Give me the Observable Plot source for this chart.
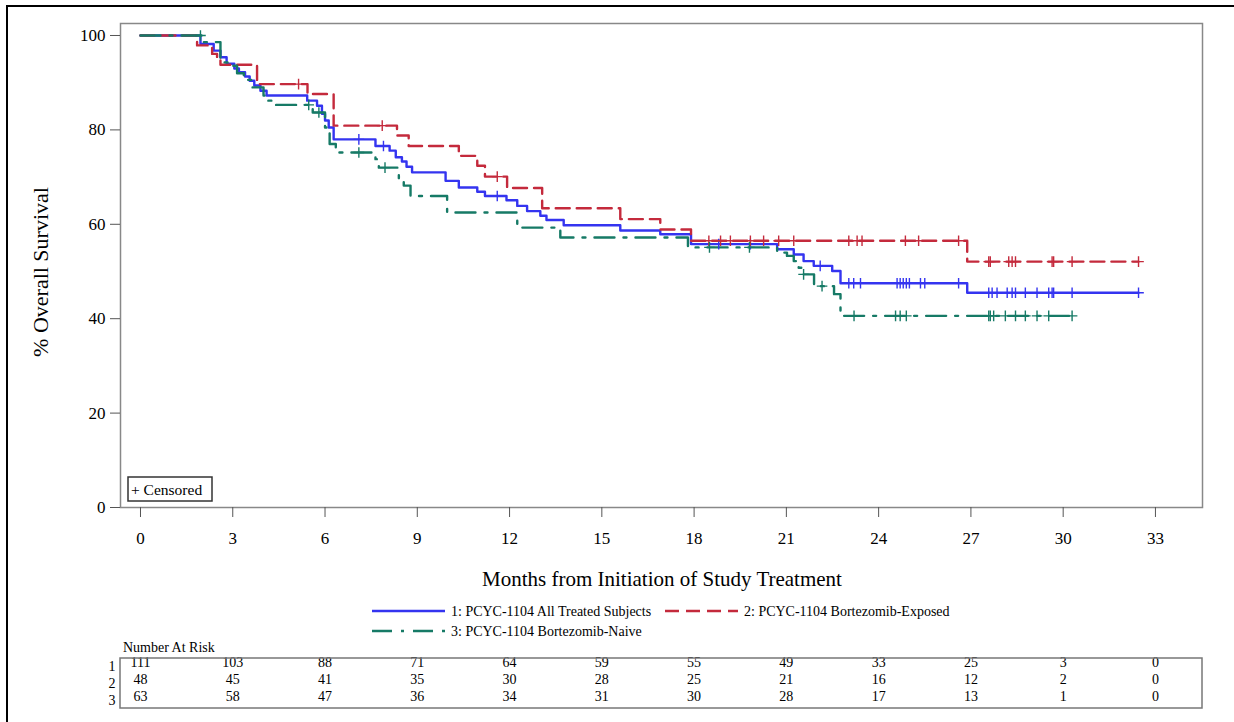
<!DOCTYPE html>
<html><head><meta charset="utf-8">
<script src="https://cdn.jsdelivr.net/npm/d3@7"></script>
<script src="https://cdn.jsdelivr.net/npm/@observablehq/plot@0.6"></script>
<style>body{margin:0;background:#fff} svg{display:block}</style>
</head><body><div id="chart"></div>
<script>
// ---------- data ----------
const seriesNames = ["1: PCYC-1104 All Treated Subjects", "2: PCYC-1104 Bortezomib-Exposed", "3: PCYC-1104 Bortezomib-Naive"];
const seriesColors = ["#3434f0", "#c42a3c", "#167a66"];

// Kaplan-Meier step points (time in months, survival %)
const allTimes = [0,1.95,2.38,2.6,2.8,3.05,3.2,3.4,3.55,3.7,3.9,4.1,5.42,5.74,5.9,6.0,6.12,6.28,7.64,8.1,8.3,8.5,8.65,8.83,9.92,10.35,10.95,11.2,11.9,12.25,12.57,13.0,13.2,13.76,15.6,16.9,17.9,20.7,21.24,21.56,21.89,22.49,22.76,26.88,32.45];
const allSurv  = [100,98.2,96.8,95.4,94.0,93.0,92.2,91.3,90.4,89.4,88.3,87.3,86.2,85.1,83.4,82.0,80.5,78.0,76.6,75.6,74.2,73.3,72.2,71.0,69.2,67.8,66.9,66.0,65.1,63.9,62.8,61.8,60.9,59.8,58.7,57.9,55.8,54.7,53.6,52.2,51.2,50.1,47.5,45.5,45.5];
const allCensT = [7.1,7.9,11.6,18.8,19.83,22.1,23.03,23.19,23.41,24.6,24.7,24.8,24.9,25.0,25.36,25.5,26.6,27.58,27.69,27.85,28.18,28.34,28.45,28.77,29.15,29.53,29.64,29.69,30.29,32.45];
const allCensS = [78.0,76.6,66.0,55.8,55.8,51.2,47.5,47.5,47.5,47.5,47.5,47.5,47.5,47.5,47.5,47.5,47.5,45.5,45.5,45.5,45.5,45.5,45.5,45.5,45.5,45.5,45.5,45.5,45.5,45.5];

const expTimes = [0,1.84,2.33,2.49,2.6,3.79,5.43,6.28,8.34,8.72,10.35,10.95,11.2,11.92,13.06,15.6,16.9,17.9,26.88,32.45];
const expSurv  = [100,97.9,96.1,95.4,93.8,89.7,87.6,80.9,78.8,76.6,74.5,72.4,70.1,67.7,63.4,61.1,58.9,56.5,52.1,52.1];
const expCensT = [5.14,7.86,11.6,18.48,18.86,19.18,19.83,20.26,20.75,21.24,23.03,23.3,23.46,24.87,25.3,26.6,27.58,27.63,28.23,28.34,28.45,29.64,29.69,30.29,32.45];
const expCensS = [89.7,80.9,70.1,56.5,56.5,56.5,56.5,56.5,56.5,56.5,56.5,56.5,56.5,56.5,56.5,56.5,52.1,52.1,52.1,52.1,52.1,52.1,52.1,52.1,52.1];

const naiTimes = [0,2.05,2.6,3.0,3.14,3.36,3.63,4.0,4.12,4.4,5.6,6.0,6.15,6.35,7.64,7.75,8.4,8.56,8.78,9.97,12.25,13.65,17.8,20.7,21.02,21.24,21.4,21.56,21.9,22.55,22.76,30.29];
const naiSurv  = [100,98.6,94.3,93.6,92.0,90.6,89.0,87.3,86.2,85.3,83.7,80.5,77.0,75.2,73.8,72.0,69.2,68.2,66.0,62.5,59.3,57.2,55.1,54.0,53.3,52.2,50.8,49.4,46.9,45.2,40.6,40.6];
const naiCensT = [1.95,5.47,5.8,7.1,7.95,18.5,19.8,21.56,22.16,23.2,24.55,24.7,24.9,27.58,27.63,27.74,28.12,28.45,28.77,29.15,29.53,30.29];
const naiCensS = [100,85.3,83.7,75.2,72.0,55.1,55.1,49.4,46.9,40.6,40.6,40.6,40.6,40.6,40.6,40.6,40.6,40.6,40.6,40.6,40.6,40.6];

const xTicks = [0,3,6,9,12,15,18,21,24,27,30,33];
const yTicks = [0,20,40,60,80,100];
const atRiskTimes = [0,3,6,9,12,15,18,21,24,27,30,33];
const atRisk1 = [111,103,88,71,64,59,55,49,33,25,3,0];
const atRisk2 = [48,45,41,35,30,28,25,21,16,12,2,0];
const atRisk3 = [63,58,47,36,34,31,30,28,17,13,1,0];

// ---------- build tables ----------
const zip = (ts, ss) => ts.map((t, i) => ({t, s: ss[i]}));
const curves = [zip(allTimes, allSurv), zip(expTimes, expSurv), zip(naiTimes, naiSurv)];
const cens = [zip(allCensT, allCensS), zip(expCensT, expCensS), zip(naiCensT, naiCensS)];
const dashes = [null, "14,7", "20,9,3,9"];
const FONT = "'Liberation Serif','Times New Roman',Times,Tinos,'Nimbus Roman','DejaVu Serif',serif";

const plusSymbol = {draw(ctx, size) {
  const r = Math.sqrt(size / Math.PI);
  ctx.moveTo(-r, 0); ctx.lineTo(r, 0);
  ctx.moveTo(0, -r); ctx.lineTo(0, r);
}};

const W = 1234, H = 722;
const frameTop = 23, frameBottom = 507, frameLeft = 120, frameRight = 1202;

const marks = [];
curves.forEach((c, i) => {
  marks.push(Plot.line(c, {x: "t", y: "s", curve: "step-after", stroke: seriesColors[i], strokeWidth: 2.4, strokeDasharray: dashes[i]}));
});
cens.forEach((c, i) => {
  marks.push(Plot.dot(c, {x: "t", y: "s", symbol: plusSymbol, r: 5.3, stroke: seriesColors[i], strokeWidth: 1.4, fill: "none"}));
});
[atRisk1, atRisk2, atRisk3].forEach((row, k) => {
  marks.push(Plot.text(atRiskTimes, {x: d => d, text: (d, i) => String(row[i]), frameAnchor: "bottom", dy: 159 + 17 * k, fontSize: 14, fill: "#000"}));
});
marks.push(Plot.frame({stroke: "#888", strokeWidth: 1.5}));
marks.push(Plot.axisX(xTicks, {ticks: xTicks, tickSize: 10, tickPadding: 14, fontSize: 17, label: null, stroke: "#555"}));
marks.push(Plot.axisY(yTicks, {ticks: yTicks, tickSize: 10, tickPadding: 5, fontSize: 17, label: null, stroke: "#555"}));

const svg = Plot.plot({
  width: W, height: H,
  marginLeft: frameLeft, marginRight: W - frameRight, marginTop: frameTop, marginBottom: H - frameBottom,
  x: {domain: [-0.65, 34.53]},
  y: {domain: [0, 102.54]},
  style: {fontFamily: FONT, color: "#000", background: "#fff", overflow: "visible"},
  marks
});
document.getElementById("chart").appendChild(svg);

const g = d3.select(svg).append("g").style("font-family", FONT).attr("fill", "#000").attr("text-anchor", "start");
// outer border
g.append("path").attr("d", `M7,${H} V6 H${W}`).attr("fill", "none").attr("stroke", "#000").attr("stroke-width", 2);

// axis titles
g.append("text").attr("x", 662).attr("y", 586).attr("text-anchor", "middle").attr("font-size", 21).text("Months from Initiation of Study Treatment");
g.append("text").attr("transform", "translate(48,272) rotate(-90)").attr("text-anchor", "middle").attr("font-size", 22).text("% Overall Survival");

// censored box
g.append("rect").attr("x", 128).attr("y", 477).attr("width", 84).attr("height", 24).attr("fill", "#fff").attr("stroke", "#333").attr("stroke-width", 1.5);
g.append("text").attr("x", 131).attr("y", 495).attr("font-size", 15.5).text("+ Censored");

// legend
const leg = [
  {x: 372, y: 611, i: 0}, {x: 665, y: 611, i: 1}, {x: 372, y: 631, i: 2}
];
leg.forEach(d => {
  g.append("line").attr("x1", d.x).attr("x2", d.x + 73).attr("y1", d.y).attr("y2", d.y)
    .attr("stroke", seriesColors[d.i]).attr("stroke-width", 2.5).attr("stroke-dasharray", dashes[d.i]);
  g.append("text").attr("x", d.x + 79).attr("y", d.y + 5).attr("font-size", 14).text(seriesNames[d.i]);
});

// number at risk
g.append("text").attr("x", 123).attr("y", 652).attr("font-size", 14).text("Number At Risk");
g.append("rect").attr("x", frameLeft).attr("y", 658).attr("width", frameRight - frameLeft).attr("height", 50).attr("fill", "none").attr("stroke", "#777").attr("stroke-width", 1.5);
["1", "2", "3"].forEach((lab, k) => {
  g.append("text").attr("x", 112).attr("y", 666 + 17 * k + 5).attr("text-anchor", "middle").attr("font-size", 14).text(lab);
});
</script></body></html>
